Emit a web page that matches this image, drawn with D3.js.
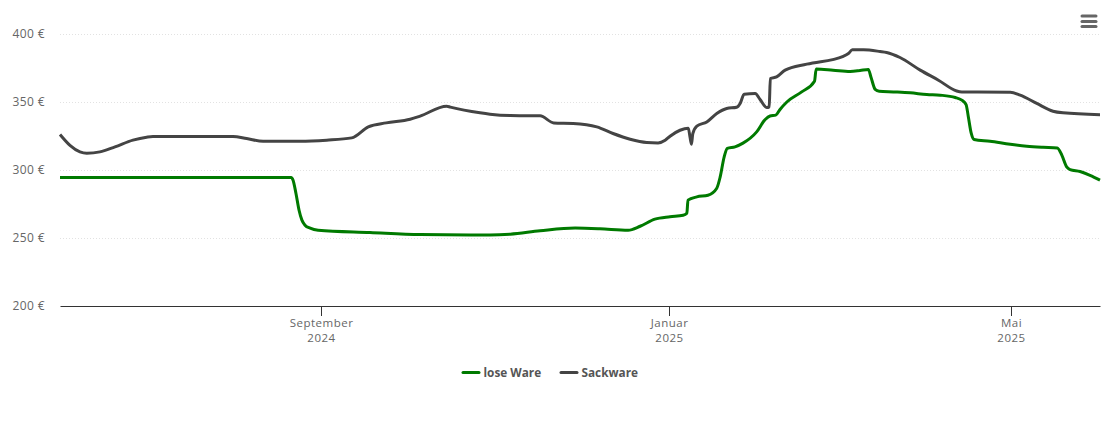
<!DOCTYPE html>
<html>
<head>
<meta charset="utf-8">
<script src="https://cdn.jsdelivr.net/npm/d3@7"></script>
<style>
body { margin: 0; background: #fff; }
text { font-family: "Open Sans", sans-serif; }
</style>
</head>
<body>
<div id="chart"></div>
<script>
// days counted from the start of the axis (1 June 2024)
const looseDays = [0,81.1,81.8,82.8,83.9,84.9,86,87.8,90.6,108.8,126.4,150.9,158,168.5,180.8,189.5,199.4,203.6,208.8,214.1,218.7,220,220.4,223.5,227.4,230.5,231.7,233.1,234.2,236.9,239.7,244.5,247.5,249.2,251.2,252.7,255.1,260.3,264.8,265.4,271.3,277.3,280.8,283.7,284.6,286.1,287.5,292.5,298.4,304.2,308.9,314.2,316.5,318,318.8,319.8,320.8,326.4,333.5,339.3,345,350,351.6,353.3,354.5,358,361.5,365];
const looseValues = [294.9,294.9,292.9,283.3,270.8,263.5,259.8,257.6,256.1,254.4,252.9,252.6,253.2,255.7,257.7,257.2,256.1,259,264.2,266,267.1,268.6,278.2,280.6,281.8,287,295.3,310,316.2,317.4,320.1,328.4,337.5,340.1,340.7,344.9,350.4,357.8,365.7,374.7,373.8,372.8,373.5,374.3,368.8,359.6,358.3,357.8,357.1,355.9,355.4,353.7,351.7,348.5,339.4,327.4,322.8,321.5,319.3,317.9,317.1,316.6,311.3,302.6,300.7,299.3,296.5,292.9];

const sackDays = [0,3.5,7,9.4,14,19.3,25.6,30.4,32.6,60.7,65.5,71.3,84.2,93.6,102.4,108.2,114.5,122.9,126.4,135.7,137,147.4,150.9,158,168.5,173.3,180.1,188.4,194.1,200.1,205.9,209.9,212.4,214.1,217.6,220.5,221.1,221.6,222.1,223.5,227,230.5,234,237.5,238.7,240.1,244,245.7,248.1,248.9,249.3,251.5,254.5,262.1,274.9,276.7,278.1,282,287.8,290.1,294.8,301.9,308.3,314.7,316.5,333.5,337,342.8,348.5,352,365];
const sackValues = [326.5,318.5,313.7,312.7,313.7,317.4,322.3,324.5,325,325,323.5,321.5,321.5,322.3,324,332.1,335,337.7,340,347.3,346.6,342.4,341.4,340.4,340.2,335,334.6,332.1,327.2,323,320.6,320.3,322.3,325.2,329.6,331.1,324.7,319.3,327.2,332.6,335.7,341.9,345.6,346.5,349.3,356.1,356.6,352.2,346.3,346.8,367.6,368.8,373.8,378.2,384,386,388.7,388.7,387.5,386.8,383.1,373.8,366.4,358.5,357.8,357.6,355.4,349.3,343.6,342.4,341];

const yTicks = [200,250,300,350,400];
const xTickDates = [new Date(2024,8,1), new Date(2025,0,1), new Date(2025,4,1)];
const xTickMonths = ["September","Januar","Mai"];
const xTickYears = ["2024","2025","2025"];
const seriesNames = ["lose Ware","Sackware"];
const seriesColors = ["#007a00","#444444"];

const startDate = new Date(2024,5,1);
const endDate = new Date(2025,5,1);
const toDate = (d) => new Date(startDate.getTime() + d * 864e5);

const width = 1110, height = 423;
const x = d3.scaleTime().domain([startDate,endDate]).range([60,1100]);
const y = d3.scaleLinear().domain([200,400]).range([306.5,34.5]);

const svg = d3.select("#chart").append("svg")
    .attr("width",width)
    .attr("height",height)
    .style("display","block");

// y axis with dotted grid
const yAxis = svg.append("g")
    .attr("transform","translate(60,0)")
    .call(d3.axisLeft(y).tickValues(yTicks).tickSize(0).tickPadding(15).tickFormat(d => d + " €"));
yAxis.select(".domain").remove();
yAxis.selectAll("text").attr("fill","#666").style("font-size","12px").style("letter-spacing","0.4px").attr("dy","0.28em");
yAxis.selectAll("line.grid")
    .data(yTicks.filter(d => d > 200))
    .enter()
    .append("line")
    .attr("class","grid")
    .attr("x1",0)
    .attr("x2",1040)
    .attr("y1",d => y(d))
    .attr("y2",d => y(d))
    .attr("stroke","#e2e2e2")
    .attr("stroke-dasharray","1,2");

// x axis
const xAxis = svg.append("g")
    .attr("transform","translate(0,306)")
    .call(d3.axisBottom(x).tickValues(xTickDates).tickSize(10).tickSizeOuter(0).tickFormat(""));
xAxis.select(".domain").attr("stroke","#333");
xAxis.selectAll(".tick")
    .attr("transform",d => `translate(${Math.round(x(d)) - 0.5},0)`);
xAxis.selectAll(".tick line").attr("stroke","#333");
xAxis.selectAll(".tick text").remove();
const xLabels = xAxis.selectAll(".tick").append("text")
    .attr("text-anchor","middle")
    .attr("fill","#666")
    .style("font-size","11.5px")
    .style("letter-spacing","0.5px");
xLabels.append("tspan").attr("x",0).attr("y",20.5).text((d,i) => xTickMonths[i]);
xLabels.append("tspan").attr("x",0).attr("y",35.5).text((d,i) => xTickYears[i]);

// lines
const line = d3.line()
    .x(d => x(toDate(d[0])))
    .y(d => y(d[1]))
    .curve(d3.curveMonotoneX);

const seriesData = [d3.zip(looseDays,looseValues), d3.zip(sackDays,sackValues)];
svg.selectAll("path.series")
    .data(seriesData)
    .enter()
    .append("path")
    .attr("class","series")
    .attr("d",line)
    .attr("fill","none")
    .attr("stroke",(d,i) => seriesColors[i])
    .attr("stroke-width",3)
    .attr("stroke-linejoin","round");

// legend
const legendX = d3.scaleOrdinal().domain(seriesNames).range([463,561]);
const legend = svg.selectAll("g.legend")
    .data(seriesNames)
    .enter()
    .append("g")
    .attr("class","legend")
    .attr("transform",d => `translate(${legendX(d)},372.5)`);
legend.append("line")
    .attr("x1",0)
    .attr("x2",16)
    .attr("stroke",(d,i) => seriesColors[i])
    .attr("stroke-width",3)
    .attr("stroke-linecap","round");
legend.append("text")
    .attr("x",20.5)
    .attr("y",4.5)
    .attr("fill","#555")
    .style("font-size","11.8px")
    .style("font-weight","bold")
    .text(d => d);

// menu button
svg.append("g")
    .selectAll("line")
    .data([16,21.5,26.5])
    .enter()
    .append("line")
    .attr("x1",1082)
    .attr("x2",1096)
    .attr("y1",d => d)
    .attr("y2",d => d)
    .attr("stroke","#666")
    .attr("stroke-width",3)
    .attr("stroke-linecap","round");
</script>
</body>
</html>
